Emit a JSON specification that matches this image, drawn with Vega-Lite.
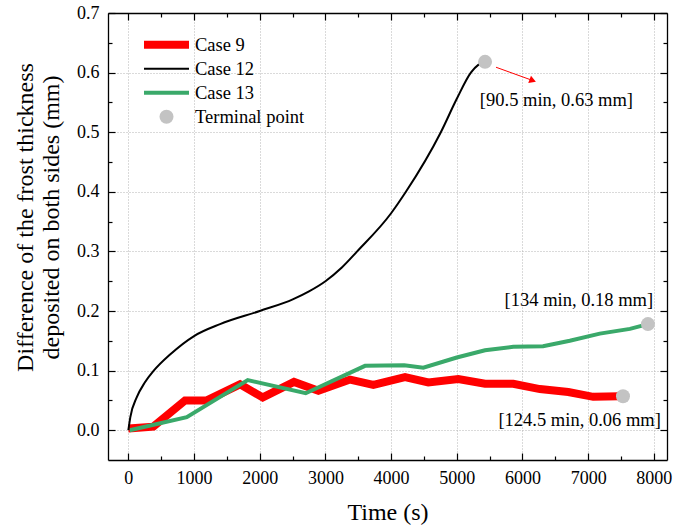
{
  "$schema": "https://vega.github.io/schema/vega-lite/v6.json",
  "width": 559,
  "height": 447,
  "autosize": "none",
  "padding": {"left": 108, "top": 13, "right": 6, "bottom": 68},
  "background": "white",
  "config": {
    "font": "Liberation Serif",
    "view": {"stroke": null},
    "axis": {
      "labelFont": "Liberation Serif",
      "titleFont": "Liberation Serif",
      "labelColor": "black",
      "titleColor": "black",
      "domainColor": "black",
      "domainWidth": 1.3,
      "tickColor": "black",
      "tickWidth": 1.2,
      "titleFontWeight": "normal",
      "labelFontSize": 18,
      "titleFontSize": 24,
      "labelOverlap": false,
      "labelBound": false,
      "labelFlush": false
    },
    "legend": {
      "orient": "none",
      "legendX": 32,
      "legendY": 20,
      "padding": 0,
      "clipHeight": 23.5,
      "labelFont": "Liberation Serif",
      "labelFontSize": 18.5,
      "labelColor": "black",
      "labelOffset": 2,
      "rowPadding": 0
    }
  },
  "datasets": {
    "lines": [
      {"series": "Case 9", "t": 0, "d": 0.003},
      {"series": "Case 9", "t": 380, "d": 0.006},
      {"series": "Case 9", "t": 863, "d": 0.05},
      {"series": "Case 9", "t": 1193, "d": 0.05},
      {"series": "Case 9", "t": 1700, "d": 0.077},
      {"series": "Case 9", "t": 2046, "d": 0.055},
      {"series": "Case 9", "t": 2522, "d": 0.081},
      {"series": "Case 9", "t": 2893, "d": 0.066},
      {"series": "Case 9", "t": 3375, "d": 0.085},
      {"series": "Case 9", "t": 3730, "d": 0.076},
      {"series": "Case 9", "t": 4212, "d": 0.089},
      {"series": "Case 9", "t": 4566, "d": 0.08},
      {"series": "Case 9", "t": 5023, "d": 0.086},
      {"series": "Case 9", "t": 5430, "d": 0.078},
      {"series": "Case 9", "t": 5860, "d": 0.078},
      {"series": "Case 9", "t": 6265, "d": 0.069},
      {"series": "Case 9", "t": 6697, "d": 0.064},
      {"series": "Case 9", "t": 7078, "d": 0.056},
      {"series": "Case 9", "t": 7480, "d": 0.057},
      {"series": "Case 12", "t": 0, "d": 0.0},
      {"series": "Case 12", "t": 30, "d": 0.022},
      {"series": "Case 12", "t": 127, "d": 0.055},
      {"series": "Case 12", "t": 250, "d": 0.08},
      {"series": "Case 12", "t": 380, "d": 0.099},
      {"series": "Case 12", "t": 635, "d": 0.127},
      {"series": "Case 12", "t": 1000, "d": 0.158},
      {"series": "Case 12", "t": 1396, "d": 0.178},
      {"series": "Case 12", "t": 2000, "d": 0.2},
      {"series": "Case 12", "t": 2511, "d": 0.22},
      {"series": "Case 12", "t": 2750, "d": 0.233},
      {"series": "Case 12", "t": 3000, "d": 0.25},
      {"series": "Case 12", "t": 3250, "d": 0.273},
      {"series": "Case 12", "t": 3483, "d": 0.3},
      {"series": "Case 12", "t": 4000, "d": 0.364},
      {"series": "Case 12", "t": 4225, "d": 0.4},
      {"series": "Case 12", "t": 4757, "d": 0.5},
      {"series": "Case 12", "t": 5000, "d": 0.556},
      {"series": "Case 12", "t": 5214, "d": 0.6},
      {"series": "Case 12", "t": 5327, "d": 0.613},
      {"series": "Case 12", "t": 5430, "d": 0.618},
      {"series": "Case 13", "t": 20, "d": 0.0},
      {"series": "Case 13", "t": 889, "d": 0.022},
      {"series": "Case 13", "t": 1817, "d": 0.084},
      {"series": "Case 13", "t": 2700, "d": 0.062},
      {"series": "Case 13", "t": 3603, "d": 0.108},
      {"series": "Case 13", "t": 4200, "d": 0.109},
      {"series": "Case 13", "t": 4490, "d": 0.105},
      {"series": "Case 13", "t": 5000, "d": 0.122},
      {"series": "Case 13", "t": 5430, "d": 0.134},
      {"series": "Case 13", "t": 5860, "d": 0.14},
      {"series": "Case 13", "t": 6313, "d": 0.141},
      {"series": "Case 13", "t": 6720, "d": 0.15},
      {"series": "Case 13", "t": 7177, "d": 0.162},
      {"series": "Case 13", "t": 7636, "d": 0.17},
      {"series": "Case 13", "t": 7910, "d": 0.178}
    ],
    "terminals": [
      {"series": "Terminal point", "t": 5430, "d": 0.618},
      {"series": "Terminal point", "t": 7910, "d": 0.178},
      {"series": "Terminal point", "t": 7530, "d": 0.057}
    ],
    "labels": [
      {"text": "[90.5 min, 0.63 mm]", "t": 5351, "d": 0.554, "align": "left"},
      {"text": "[134 min, 0.18 mm]", "t": 7989, "d": 0.218, "align": "right"},
      {"text": "[124.5 min, 0.06 mm]", "t": 8106, "d": 0.0168, "align": "right"}
    ],
    "arrow": [
      {"t1": 5597, "d1": 0.609, "t2": 6156, "d2": 0.5867}
    ]
  },
  "layer": [
    {
      "data": {"name": "lines"},
      "transform": [{"filter": "datum.series !== 'Case 12'"}],
      "mark": {"type": "line", "strokeJoin": "miter"},
      "encoding": {
        "x": {
          "field": "t", "type": "quantitative",
          "scale": {"domain": [-310, 8200], "nice": false, "zero": false},
          "axis": {
            "orient": "bottom",
            "title": "Time (s)",
            "titlePadding": 10,
            "values": [0, 500, 1000, 1500, 2000, 2500, 3000, 3500, 4000, 4500, 5000, 5500, 6000, 6500, 7000, 7500, 8000],
            "labelExpr": "datum.value % 1000 === 0 ? datum.label : ''",
            "format": "d",
            "tickSize": {"condition": {"test": "datum.value % 1000 === 0", "value": -7}, "value": -4},
            "labelPadding": 16,
            "grid": true,
            "gridColor": "#b4b4b4",
            "gridDash": [1, 2],
            "gridOpacity": {"condition": {"test": "datum.value % 1000 === 0", "value": 1}, "value": 0}
          }
        },
        "y": {
          "field": "d", "type": "quantitative",
          "scale": {"domain": [-0.05, 0.7], "nice": false, "zero": false},
          "axis": {
            "orient": "left",
            "title": ["Difference of the frost thickness", "deposited on both sides (mm)"],
            "titleLineHeight": 26,
            "titlePadding": 13,
            "titleY": 204,
            "values": [0, 0.05, 0.1, 0.15, 0.2, 0.25, 0.3, 0.35, 0.4, 0.45, 0.5, 0.55, 0.6, 0.65, 0.7],
            "labelExpr": "abs(datum.value * 10 - round(datum.value * 10)) < 0.001 ? format(datum.value, '.1f') : ''",
            "tickSize": {"condition": {"test": "abs(datum.value * 10 - round(datum.value * 10)) < 0.001", "value": -7}, "value": -4},
            "labelPadding": 16,
            "grid": true,
            "gridColor": "#b4b4b4",
            "gridDash": [1, 2],
            "gridOpacity": {"condition": {"test": "abs(datum.value * 10 - round(datum.value * 10)) < 0.001", "value": 1}, "value": 0}
          }
        },
        "color": {
          "field": "series", "type": "nominal", "title": null,
          "scale": {"type": "ordinal", "domain": ["Case 9", "Case 12", "Case 13", "Terminal point"], "range": ["#ff0000", "#000000", "#3aa96a", "#c3c3c3"]},
          "legend": {
            "encode": {
              "symbols": {"update": {"fill": {"scale": "color", "field": "value"}, "stroke": {"scale": "color", "field": "value"}}}
            }
          }
        },
        "strokeWidth": {
          "field": "series", "type": "nominal", "title": null,
          "scale": {"type": "ordinal", "domain": ["Case 9", "Case 12", "Case 13", "Terminal point"], "range": [8, 2, 4, 0]}
        }
      }
    },
    {
      "data": {"name": "lines"},
      "transform": [{"filter": "datum.series === 'Case 12'"}],
      "mark": {"type": "line", "interpolate": "monotone", "color": "#000000", "strokeWidth": 2},
      "encoding": {
        "x": {"field": "t", "type": "quantitative", "axis": null},
        "y": {"field": "d", "type": "quantitative", "axis": null}
      }
    },
    {
      "data": {"name": "terminals"},
      "mark": {"type": "point", "filled": true, "opacity": 1},
      "encoding": {
        "x": {
          "field": "t", "type": "quantitative",
          "axis": {
            "orient": "top", "title": null, "labels": false, "grid": false,
            "values": [0, 500, 1000, 1500, 2000, 2500, 3000, 3500, 4000, 4500, 5000, 5500, 6000, 6500, 7000, 7500, 8000],
            "tickSize": {"condition": {"test": "datum.value % 1000 === 0", "value": -7}, "value": -4}
          }
        },
        "y": {
          "field": "d", "type": "quantitative",
          "axis": {
            "orient": "right", "title": null, "labels": false, "grid": false,
            "values": [0, 0.05, 0.1, 0.15, 0.2, 0.25, 0.3, 0.35, 0.4, 0.45, 0.5, 0.55, 0.6, 0.65, 0.7],
            "tickSize": {"condition": {"test": "abs(datum.value * 10 - round(datum.value * 10)) < 0.001", "value": -7}, "value": -4}
          }
        },
        "color": {"field": "series", "type": "nominal", "title": null},
        "shape": {
          "field": "series", "type": "nominal", "title": null,
          "scale": {"type": "ordinal", "domain": ["Case 9", "Case 12", "Case 13", "Terminal point"], "range": ["stroke", "stroke", "stroke", "circle"]}
        },
        "size": {
          "field": "series", "type": "nominal", "title": null,
          "scale": {"type": "ordinal", "domain": ["Case 9", "Case 12", "Case 13", "Terminal point"], "range": [2025, 2025, 2025, 196]}
        }
      }
    },
    {
      "data": {"name": "labels"},
      "transform": [{"filter": "datum.align === 'left'"}],
      "mark": {"type": "text", "fontSize": 18.5, "font": "Liberation Serif", "baseline": "middle", "align": "left", "color": "black"},
      "encoding": {
        "x": {"field": "t", "type": "quantitative", "axis": null},
        "y": {"field": "d", "type": "quantitative", "axis": null},
        "text": {"field": "text"}
      }
    },
    {
      "data": {"name": "labels"},
      "transform": [{"filter": "datum.align === 'right'"}],
      "mark": {"type": "text", "fontSize": 18.5, "font": "Liberation Serif", "baseline": "middle", "align": "right", "color": "black"},
      "encoding": {
        "x": {"field": "t", "type": "quantitative", "axis": null},
        "y": {"field": "d", "type": "quantitative", "axis": null},
        "text": {"field": "text"}
      }
    },
    {
      "data": {"name": "arrow"},
      "mark": {"type": "rule", "color": "#ff0000", "strokeWidth": 1},
      "encoding": {
        "x": {"field": "t1", "type": "quantitative", "axis": null},
        "y": {"field": "d1", "type": "quantitative", "axis": null},
        "x2": {"field": "t2"},
        "y2": {"field": "d2"}
      }
    },
    {
      "data": {"name": "arrow"},
      "mark": {"type": "point", "shape": "triangle-right", "filled": true, "color": "#ff0000", "size": 60, "angle": 20.6, "opacity": 1},
      "encoding": {
        "x": {"field": "t2", "type": "quantitative", "axis": null},
        "y": {"field": "d2", "type": "quantitative", "axis": null}
      }
    }
  ],
  "resolve": {"axis": {"x": "independent", "y": "independent"}}
}
